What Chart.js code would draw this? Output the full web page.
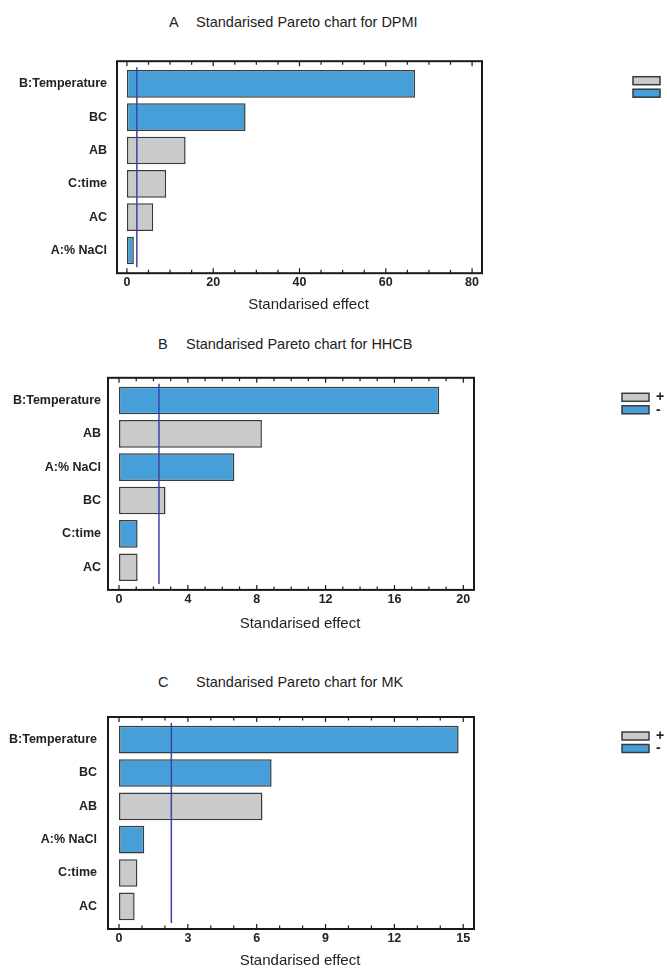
<!DOCTYPE html>
<html><head><meta charset="utf-8">
<script src="https://cdn.jsdelivr.net/npm/chart.js@4.4.0/dist/chart.umd.min.js"></script>
<style>
html,body{margin:0;padding:0;background:#fff;width:667px;height:968px;overflow:hidden;position:relative}
canvas{position:absolute;left:0}
.t{position:absolute;font-family:'Liberation Sans',Arial,sans-serif;font-size:14.5px;line-height:20px;color:#222;white-space:nowrap}
</style></head><body>
<div class="t" style="left:169px;top:12px">A</div>
<div class="t" style="left:196px;top:12px">Standarised Pareto chart for DPMI</div>
<div class="t" style="left:158px;top:334px">B</div>
<div class="t" style="left:186px;top:334px">Standarised Pareto chart for HHCB</div>
<div class="t" style="left:158px;top:672px">C</div>
<div class="t" style="left:196px;top:672px">Standarised Pareto chart for MK</div>
<canvas id="cA" width="667" height="320" style="top:0px;width:667px;height:320px"></canvas>
<canvas id="cB" width="667" height="320" style="top:320px;width:667px;height:320px"></canvas>
<canvas id="cC" width="667" height="330" style="top:640px;width:667px;height:330px"></canvas>
<script>
// ---- data ----
const catsA = ['B:Temperature','BC','AB','C:time','AC','A:% NaCl'];
const effectsA = [66.8, 27.5, 13.6, 9.1, 6.1, 1.6];
const signsA = ['-','-','+','+','+','-'];
const ticksA = [0,20,40,60,80];
const critA = 2.3;

const catsB = ['B:Temperature','AB','A:% NaCl','BC','C:time','AC'];
const effectsB = [18.6, 8.3, 6.7, 2.7, 1.08, 1.08];
const signsB = ['-','+','-','+','-','+'];
const ticksB = [0,4,8,12,16,20];
const critB = 2.32;

const catsC = ['B:Temperature','BC','AB','A:% NaCl','C:time','AC'];
const effectsC = [14.8, 6.65, 6.25, 1.1, 0.8, 0.68];
const signsC = ['-','-','+','-','+','+'];
const ticksC = [0,3,6,9,12,15];
const critC = 2.28;

const legendLabels = ['+','-'];
const axisTitle = 'Standarised effect';

// ---- styles ----
const FONT = "'Liberation Sans',Arial,sans-serif";
const BLUE = '#469fd8';
const GRAY = '#c9cacc';
const EDGE = '#3a3a3a';
const REF = '#3c44a8';

function makePanel(id, cats, vals, signs, tickVals, crit, L) {
  const canvas = document.getElementById(id);
  const H = canvas.height;
  const xH = 30;
  const plus = vals.map((v,i)=>signs[i]==='+'?v:null);
  const minus = vals.map((v,i)=>signs[i]==='-'?v:null);
  const deco = {
    id: 'deco'+id,
    afterDatasetsDraw(chart) {
      const ctx = chart.ctx, a = chart.chartArea, xs = chart.scales.x;
      ctx.save();
      const rx = xs.getPixelForValue(crit);
      ctx.strokeStyle = REF; ctx.lineWidth = 1.5;
      ctx.beginPath(); ctx.moveTo(rx, a.top); ctx.lineTo(rx, a.bottom); ctx.stroke();
      const ft = a.top - 6, fb = a.bottom + 6;
      ctx.strokeStyle = '#1a1a1a'; ctx.lineWidth = 2;
      ctx.strokeRect(a.left, ft, a.right - a.left, fb - ft);
      ctx.lineWidth = 1.2;
      for (let v = 0; v <= xs.max + 1e-9; v += L.minor) {
        const px = xs.getPixelForValue(v);
        const major = tickVals.some(t => Math.abs(t - v) < 1e-9);
        const len = major ? 5 : 3.5;
        ctx.beginPath();
        ctx.moveTo(px, ft); ctx.lineTo(px, ft + len);
        ctx.moveTo(px, fb); ctx.lineTo(px, fb - len);
        ctx.stroke();
      }
      // axis title
      ctx.fillStyle = '#222';
      ctx.font = '15px ' + FONT;
      ctx.textAlign = 'center'; ctx.textBaseline = 'middle';
      ctx.fillText(axisTitle, (a.left + a.right) / 2 + 9, L.titleY);
      // legend
      const cols = [GRAY, BLUE];
      const ys = [L.legY, L.legY + 12.5];
      ctx.lineWidth = 1.5; ctx.strokeStyle = EDGE;
      ctx.font = 'bold 14px ' + FONT;
      ctx.textBaseline = 'middle'; ctx.textAlign = 'left';
      for (let i = 0; i < 2; i++) {
        ctx.fillStyle = cols[i];
        ctx.fillRect(L.legX, ys[i], 27, 8);
        ctx.strokeRect(L.legX, ys[i], 27, 8);
        ctx.fillStyle = '#222';
        ctx.fillText(legendLabels[i], L.legX + 34, ys[i] + 4);
      }
      ctx.restore();
    }
  };
  return new Chart(canvas, {
    type: 'bar',
    data: {
      labels: cats,
      datasets: [
        {label: legendLabels[0], data: plus, backgroundColor: GRAY},
        {label: legendLabels[1], data: minus, backgroundColor: BLUE}
      ]
    },
    options: {
      indexAxis: 'y',
      responsive: false,
      maintainAspectRatio: false,
      animation: false,
      devicePixelRatio: 1,
      datasets: {bar: {grouped: false, barPercentage: 0.83, categoryPercentage: 1,
        borderColor: EDGE, borderWidth: 1.5, borderSkipped: false}},
      layout: {padding: {left: 0, top: L.area.top, right: 667 - L.area.right, bottom: H - L.area.bottom - xH}},
      plugins: {legend: {display: false}, title: {display: false}, tooltip: {enabled: false}},
      scales: {
        x: {
          type: 'linear', min: L.xmin, max: L.xmax,
          afterBuildTicks: s => { s.ticks = tickVals.map(v => ({value: v})); },
          afterFit: s => { s.height = xH; },
          grid: {display: false, drawTicks: false},
          border: {display: false},
          ticks: {padding: 8, color: '#222', font: {family: FONT, size: 12.5, weight: 'bold'}, maxRotation: 0}
        },
        y: {
          type: 'category',
          afterFit: s => { s.width = L.area.left; },
          grid: {display: false, drawTicks: false},
          border: {display: false},
          ticks: {padding: L.ypad, color: '#222', font: {family: FONT, size: 12.5, weight: 'bold'}}
        }
      }
    },
    plugins: [deco]
  });
}

makePanel('cA', catsA, effectsA, signsA, ticksA, critA,
  {area: {left: 117, right: 482, top: 67.2, bottom: 267.2}, xmin: -2.3, xmax: 82.3, minor: 5,
   ypad: 10, titleY: 305, legX: 633, legY: 76.7});
makePanel('cB', catsB, effectsB, signsB, ticksB, critB,
  {area: {left: 108, right: 474, top: 63.8, bottom: 263.9}, xmin: -0.64, xmax: 20.62, minor: 1,
   ypad: 7, titleY: 304, legX: 622, legY: 73.3});
makePanel('cC', catsC, effectsC, signsC, ticksC, critC,
  {area: {left: 108, right: 474, top: 83, bottom: 283}, xmin: -0.48, xmax: 15.47, minor: 1,
   ypad: 11, titleY: 321, legX: 622, legY: 92});
</script>
</body></html>
